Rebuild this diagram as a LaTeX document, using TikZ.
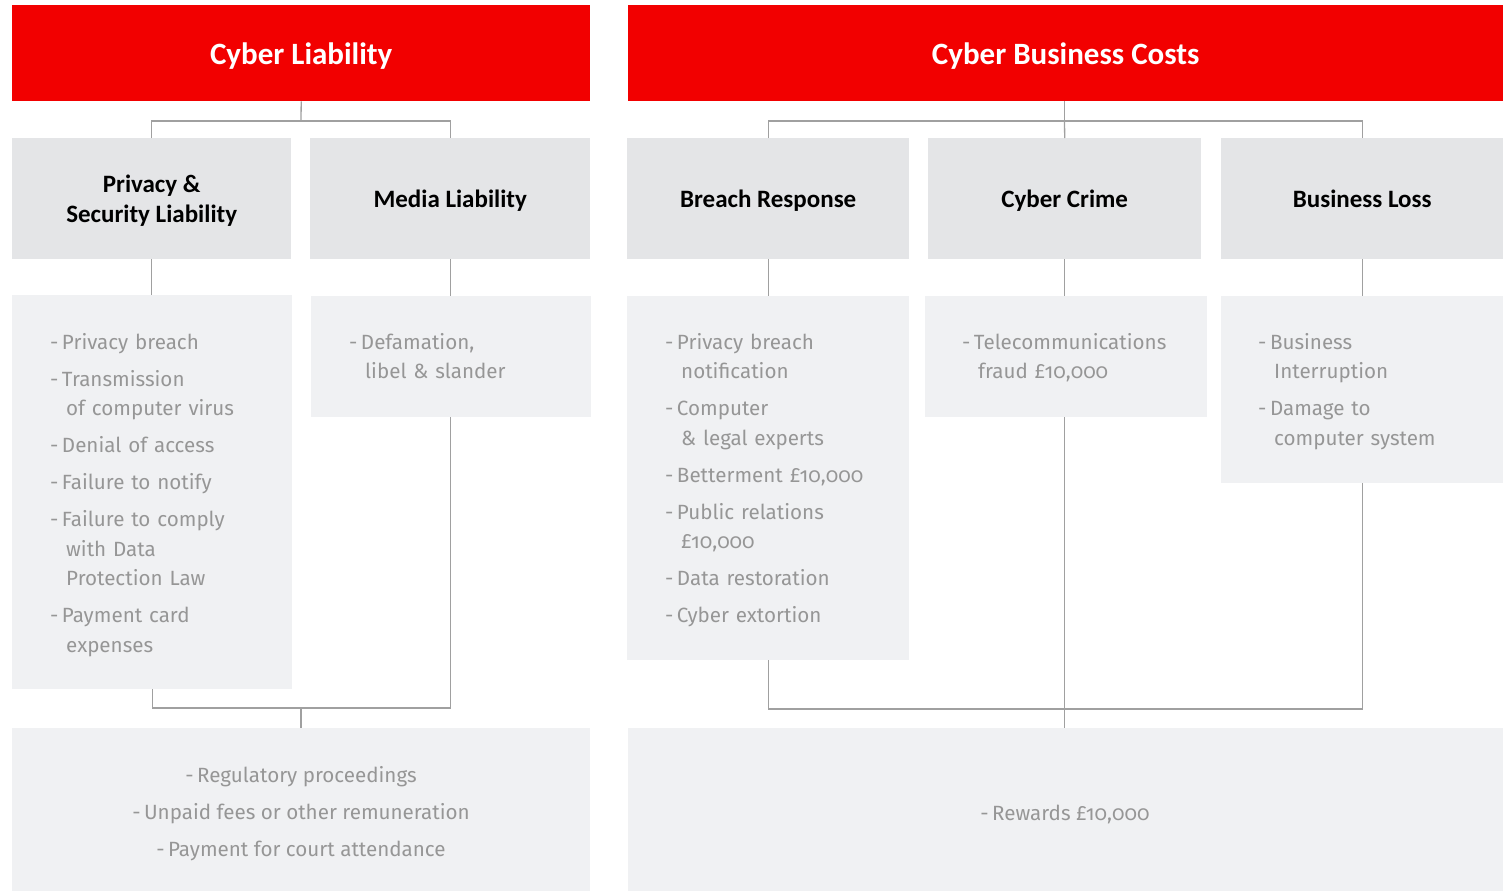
\documentclass[tikz,border=0pt]{standalone}
\usepackage{fontspec}
\setmainfont{Carlito}
\newfontfamily\lightfont[Numbers=OldStyle]{Fira Sans}
\definecolor{cred}{HTML}{F20000}
\definecolor{titlegray}{HTML}{E4E5E7}
\definecolor{contgray}{HTML}{F0F1F3}
\definecolor{linegray}{HTML}{A0A0A0}
\definecolor{txtgray}{HTML}{969696}
\newcommand\itm[1]{\hangindent=16pt\hangafter=1\noindent-\kern3.5pt #1\par}
\begin{document}
\begin{tikzpicture}[x=1pt,y=-1pt,
  conn/.style={draw=linegray, line width=1.3pt},
  redbox/.style={fill=cred, inner sep=0, anchor=north west, text=white, text depth=0pt, font=\fontsize{31}{36}\selectfont\bfseries},
  titlebox/.style={fill=titlegray, inner sep=0, anchor=north west, text depth=0pt, font=\fontsize{25}{30}\selectfont\bfseries, align=center, text=black},
  contbox/.style={fill=contgray, inner sep=0, anchor=north west},
  listtext/.style={anchor=base west, inner sep=0, text width=#1, text=txtgray, font=\lightfont\fontsize{20.6}{29.5}\selectfont},
  centtext/.style={anchor=center, inner sep=0, align=center, text=txtgray, font=\lightfont\fontsize{20.6}{37}\selectfont},
]
\useasboundingbox[fill=white] (0,0) rectangle (1504,891);
% headers
\node[redbox, minimum width=578pt, minimum height=96pt] (cl) at (12,5) {Cyber Liability};
\node[redbox, minimum width=875pt, minimum height=96pt] (cr) at (628,5) {Cyber Business Costs};
% title boxes
\node[titlebox, minimum width=279pt, minimum height=121pt] (pst) at (12,138) {Privacy \&\\Security Liability};
\node[titlebox, minimum width=280pt, minimum height=121pt] (med) at (310,138) {Media Liability};
\node[titlebox, minimum width=282pt, minimum height=121pt] (brr) at (627,138) {Breach Response};
\node[titlebox, minimum width=273pt, minimum height=121pt] (ccr) at (928,138) {Cyber Crime};
\node[titlebox, minimum width=282pt, minimum height=121pt] (bls) at (1221,138) {Business Loss};
% content boxes
\node[contbox, minimum width=280pt, minimum height=394pt] (pstc) at (12,295) {};
\node[contbox, minimum width=280pt, minimum height=121pt] (medc) at (310.5,296) {};
\node[contbox, minimum width=282pt, minimum height=364pt] (brrc) at (627,296) {};
\node[contbox, minimum width=282pt, minimum height=121pt] (ccrc) at (925,296) {};
\node[contbox, minimum width=282pt, minimum height=187pt] (blsc) at (1221,296) {};
% bottom boxes
\node[contbox, minimum width=578pt, minimum height=163pt] (bl) at (12,728) {};
\node[contbox, minimum width=875pt, minimum height=163pt] (br) at (628,728) {};
% list texts
\node[listtext=240pt] (pstt) at (50,349) {\raggedright\setlength\parskip{7.5pt}%
\itm{Privacy breach}\itm{Transmission\newline of computer virus}\itm{Denial of access}\itm{Failure to notify}\itm{Failure to comply\newline with Data\newline Protection Law}\itm{Payment card\newline expenses}};
\node[listtext=240pt] (medt) at (349,349) {\raggedright\setlength\parskip{7.5pt}%
\itm{Defamation,\newline libel \& slander}};
\node[listtext=240pt] (brrt) at (665,349) {\raggedright\setlength\parskip{7.5pt}%
\itm{Privacy breach\newline notification}\itm{Computer\newline \& legal experts}\itm{Betterment £10,000}\itm{Public relations\newline £10,000}\itm{Data restoration}\itm{Cyber extortion}};
\node[listtext=240pt] (ccrt) at (962,349) {\raggedright\setlength\parskip{7.5pt}%
\itm{Telecommunications\newline fraud £10,000}};
\node[listtext=240pt] (blst) at (1258,349) {\raggedright\setlength\parskip{7.5pt}%
\itm{Business\newline Interruption}\itm{Damage to\newline computer system}};
\node[centtext] (blt) at (301,814) {-\kern3.5pt Regulatory proceedings\\-\kern3.5pt Unpaid fees or other remuneration\\-\kern3.5pt Payment for court attendance};
\node[centtext] (brt) at (1065,814) {-\kern3.5pt Rewards £10,000};
% junctions
\coordinate (jl) at (301,121);
\coordinate (jlb) at (301,708);
\coordinate (jr) at (1064.5,121);
\coordinate (jrb) at (1064.5,709);
% connectors left
\draw[conn] (cl.south) -- (jl);
\draw[conn] (pst.north) |- (jl) -| (med.north);
\draw[conn] (pst.south) -- (pst.south |- pstc.north);
\draw[conn] (med.south) -- (med.south |- medc.north);
\draw[conn] (pstc.south) |- (jlb) -| (medc.south);
\draw[conn] (jlb) -- (jlb |- bl.north);
% connectors right
\draw[conn] (ccr.north) -- (jr);
\draw[conn] (brr.north) |- (jr) -| (bls.north);
\draw[conn] (brr.south) -- (brr.south |- brrc.north);
\draw[conn] (ccr.south) -- (ccr.south |- ccrc.north);
\draw[conn] (bls.south) -- (bls.south |- blsc.north);
\draw[conn] (brrc.south) |- (jrb) -| (blsc.south);
\draw[conn] (ccrc.south -| ccr.south) -- (ccr.south |- br.north);
\draw[conn] (cr.south -| ccr.north) -- (ccr.north);
\end{tikzpicture}
\end{document}
